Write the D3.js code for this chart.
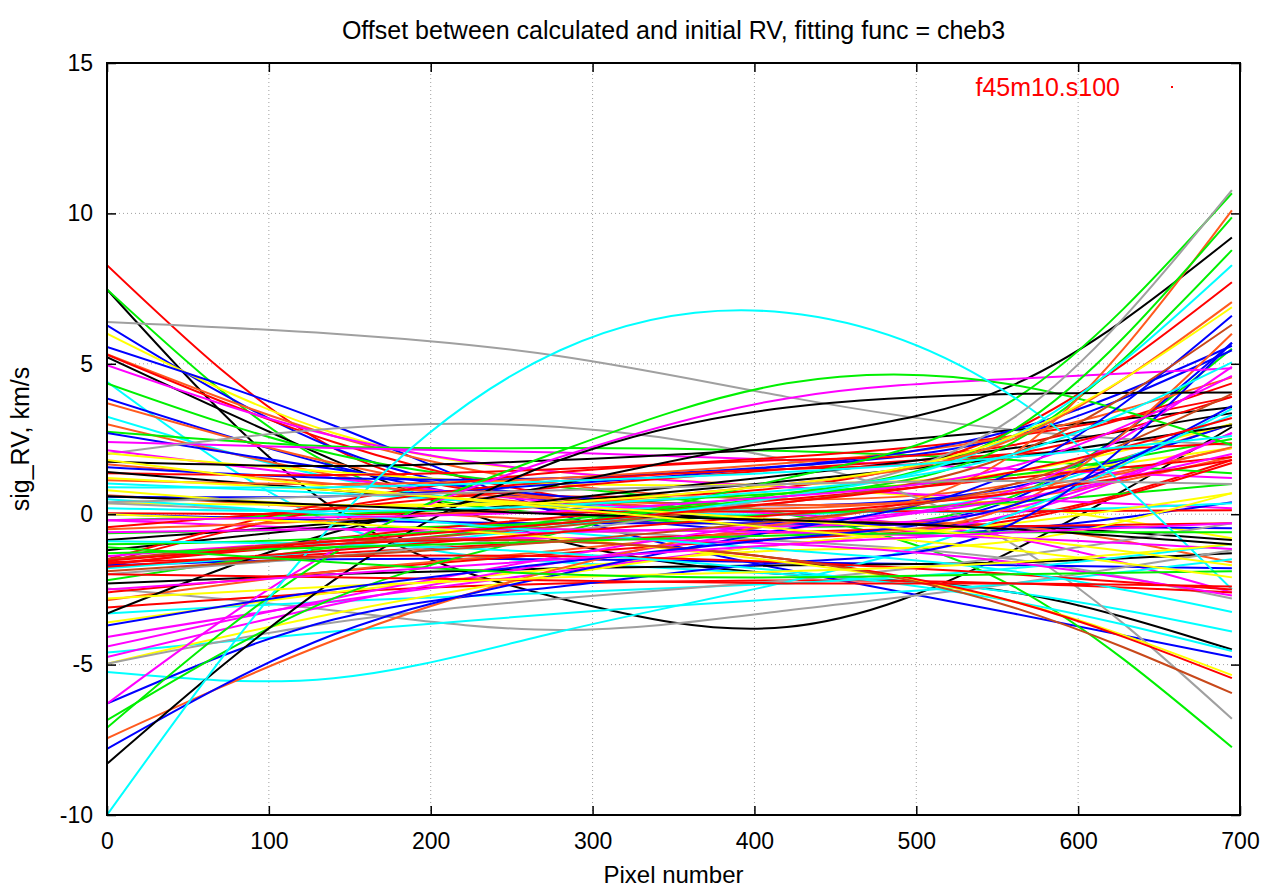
<!DOCTYPE html>
<html>
<head>
<meta charset="utf-8">
<script src="https://cdn.jsdelivr.net/npm/d3@7"></script>
<style>
  body { margin: 0; background: #fff; }
  text { font-family: "Liberation Sans", Arial, sans-serif; }
</style>
</head>
<body>
<div id="chart"></div>
<script>
// chart texts
const chartTitle = "Offset between calculated and initial RV, fitting func = cheb3";
const xLabel = "Pixel number";
const yLabel = "sig_RV, km/s";
const legendLabel = "f45m10.s100";

const xTicks = [0, 100, 200, 300, 400, 500, 600, 700];
const yTicks = [-10, -5, 0, 5, 10, 15];

const xKnots = [0, 140, 280, 420, 560, 695];

// one colour code per curve (r red, g green, b blue, m magenta, c cyan, o orange, s sienna, y yellow, k black, a grey)
const lineColors = [
  "r","k","g","a","b","y","b","o","r","k",
  "m","c","g","b","o","c","o","g","b","m",
  "a","m","y","k","o","b","r","k","o","c",
  "o","b","y","a","r","g","m","b","r","g",
  "k","k","r","r","r","r","b","g","k","a",
  "r","o","r","c","k","y","m","m","c","m",
  "y","a","c","b","m","g","g","o","b","k",
  "c","a","g","c","o","y","s","c","m","r",
  "m","c","c","y","r","s","r","r","y","g",
  "b","s","m","y","k","r","g","y","c","m",
  "a"
];

// RV offset (km/s) of each curve at the xKnots positions
const lineValues = [
  [8.28, 2.2, 0.6, 0.9, 2.8, 7.71],
  [7.47, 0.2, -2.8, -3.75, -1.2, 2.9],
  [7.47, 1.6, 0.0, -0.4, 0.6, 5.5],
  [6.39, 6.0, 5.25, 3.9, 2.8, 2.3],
  [6.28, 2.2, 0.4, -0.3, 0.5, 5.7],
  [6.0, 2.7, 1.4, 0.9, 0.3, -0.8],
  [5.56, 2.95, 0.0, -1.85, -3.3, -4.75],
  [5.32, 2.6, 1.0, 0.5, 1.0, 3.0],
  [5.3, 2.4, 0.6, -0.2, -0.1, 1.8],
  [5.22, 1.8, -0.9, -2.0, -2.6, -4.5],
  [4.95, 2.6, 1.4, 0.9, 0.5, 0.2],
  [4.4, -0.3, -1.6, -2.0, -2.6, -3.9],
  [4.35, 2.0, 0.9, 0.0, -2.4, -7.75],
  [3.85, 1.6, 0.1, -0.6, -0.5, 0.4],
  [3.69, 1.7, 0.5, 0.2, 0.8, 2.2],
  [3.24, 1.2, 0.2, 0.0, 0.7, 3.3],
  [2.99, 1.3, 0.3, 0.1, 0.5, 1.9],
  [2.74, 2.25, 2.2, 2.1, 1.8, 1.36],
  [2.7, 1.5, 0.6, 0.3, 0.9, 3.0],
  [2.4, 2.2, 2.05, 1.8, 1.5, 1.2],
  [2.0, 2.85, 2.9, 1.8, -1.0, -6.8],
  [2.13, 1.2, 0.4, 0.0, -0.8, -2.6],
  [2.03, 1.4, 1.0, 1.0, 1.3, 2.2],
  [1.74, 1.6, 1.8, 2.2, 2.8, 3.56],
  [1.66, 1.0, 0.5, 0.3, 0.7, 2.23],
  [1.56, 1.2, 1.2, 1.6, 2.6, 5.45],
  [1.36, 1.3, 1.5, 1.9, 2.6, 3.9],
  [1.4, 0.8, 0.2, -0.2, -0.4, -0.86],
  [1.13, 1.0, 1.2, 1.7, 2.6, 4.55],
  [1.02, 0.7, 0.3, 0.1, 0.1, 0.36],
  [0.63, 0.2, -0.2, -0.3, -0.4, -1.6],
  [0.58, 0.6, 1.0, 1.6, 2.8, 5.6],
  [0.36, 0.3, 0.4, 0.7, 1.4, 3.0],
  [0.36, 0.0, -0.5, -0.9, -1.5, -2.8],
  [0.03, 0.0, 0.05, 0.1, 0.1, 0.13],
  [-0.2, 0.0, 0.3, 0.7, 1.3, 2.5],
  [-0.2, -0.5, -0.6, -0.4, 0.2, 2.7],
  [0.0, -0.2, -0.3, -0.3, -0.4, -0.47],
  [-0.43, 0.2, 0.9, 1.5, 2.0, 2.36],
  [-0.63, -0.5, -0.3, 0.0, 0.4, 1.0],
  [-0.86, -0.3, 0.4, 1.1, 1.9, 2.96],
  [-1.2, -0.4, 0.5, 1.3, 2.2, 3.36],
  [-1.5, 0.4, 1.4, 1.8, 2.3, 4.35],
  [-1.6, 0.2, 1.1, 1.5, 2.0, 3.9],
  [-1.7, -0.8, -0.1, 0.5, 1.2, 1.9],
  [-1.75, -1.3, -0.9, -0.6, -0.4, -0.3],
  [-1.7, -1.5, -1.5, -1.6, -1.7, -1.8],
  [-2.2, -1.1, -0.3, 0.6, 2.4, 8.78],
  [-2.3, -2.0, -1.8, -1.7, -1.6, -1.3],
  [-2.47, -3.2, -3.85, -3.2, -2.3, -1.2],
  [-2.6, -1.9, -1.3, -0.8, -0.2, 1.7],
  [-2.86, -1.9, -1.2, -0.6, 0.3, 6.0],
  [-3.1, -2.6, -2.3, -2.2, -2.3, -2.6],
  [-3.3, -2.9, -2.6, -2.3, -1.8, -1.0],
  [-3.3, -0.6, 1.0, 2.5, 4.3, 9.2],
  [-3.6, -2.6, -1.8, -1.2, -0.9, 0.7],
  [-4.08, -2.9, -1.9, -1.0, 0.0, 2.7],
  [-4.4, -2.8, -1.4, -0.3, 0.8, 4.9],
  [-4.6, -3.9, -3.3, -2.8, -2.3, -1.5],
  [-4.75, -3.0, -1.6, -0.5, 0.5, 2.0],
  [-4.97, -3.3, -2.0, -1.0, -0.3, 0.7],
  [-4.97, -3.6, -2.8, -2.2, -1.4, -0.3],
  [-5.25, -5.45, -3.9, -2.25, 0.0, 3.5],
  [-6.3, -3.5, -2.4, -1.6, -0.3, 5.7],
  [-6.3, -1.2, 1.9, 3.85, 4.5, 4.85],
  [-6.85, -2.8, -0.6, 1.2, 3.8, 10.67],
  [-7.1, -1.3, 2.1, 4.35, 4.3, 2.3],
  [-7.45, -4.2, -1.8, -0.3, 2.0, 10.1],
  [-7.8, -4.0, -2.0, -0.5, 1.4, 6.6],
  [-8.3, -2.2, 1.8, 3.55, 4.0, 4.05],
  [-10.0, -0.3, 5.45, 6.7, 3.9, -2.5],
  [-2.0, -1.4, -0.6, 0.6, 3.2, 10.77],
  [-1.0, -0.8, -0.2, 0.7, 2.8, 9.87],
  [-1.8, -1.2, -0.4, 0.6, 2.6, 8.28],
  [-0.5, -0.2, 0.3, 1.0, 2.5, 7.05],
  [0.8, 0.3, 0.4, 1.0, 2.6, 6.88],
  [-1.5, -1.0, -0.4, 0.4, 2.0, 6.3],
  [0.2, 0.1, 0.3, 0.8, 2.0, 5.05],
  [-0.6, -0.5, -0.5, -0.6, -0.8, -1.16],
  [-1.6, -1.4, -1.4, -1.6, -2.0, -2.5],
  [-1.4, -0.9, -0.8, -1.0, -1.6, -2.7],
  [0.5, 0.0, -0.6, -1.2, -1.9, -3.25],
  [-0.9, -1.0, -1.3, -1.9, -2.9, -4.55],
  [0.0, -0.3, -0.8, -1.6, -2.9, -5.35],
  [-1.65, -1.0, -0.9, -1.5, -2.9, -5.45],
  [-1.5, -0.9, -0.9, -1.5, -3.1, -5.95],
  [-2.0, -2.1, -2.2, -2.3, -2.3, -2.4],
  [-1.75, -1.2, -0.6, 0.0, 0.7, 1.8],
  [-2.8, -2.4, -2.1, -1.9, -1.6, -1.0],
  [-1.3, -1.1, -0.9, -0.7, -0.6, -0.6],
  [-3.7, -2.5, -1.6, -0.8, 0.3, 3.6],
  [-1.9, -1.4, -0.9, -0.2, 1.0, 4.0],
  [-0.2, -0.1, 0.1, 0.6, 1.6, 4.6],
  [1.2, 0.8, 0.3, -0.2, -0.8, -1.7],
  [0.6, 0.3, 0.0, -0.2, -0.5, -1.0],
  [-1.55, -0.9, -0.3, 0.4, 1.4, 3.2],
  [-1.1, -1.6, -2.0, -2.1, -2.0, -1.9],
  [1.8, 0.9, 0.2, -0.5, -1.2, -2.1],
  [0.9, 0.9, 1.1, 1.4, 1.9, 2.6],
  [-2.5, -2.0, -1.5, -1.0, -0.6, -0.3],
  [0.4, 0.6, 0.8, 1.0, 1.1, 1.0]
];

const palette = {
  r: "#ff0000", g: "#00f000", b: "#0000ff", m: "#ff00ff", c: "#00ffff",
  o: "#ff5a1e", s: "#c8481a", y: "#ffff00", k: "#000000", a: "#a0a0a0"
};

const width = 1264, height = 889;
const margin = {top: 63, right: 24, bottom: 74, left: 107};

const svg = d3.select("#chart").append("svg")
  .attr("width", width)
  .attr("height", height);

const x = d3.scaleLinear().domain([0, 700]).range([margin.left, width - margin.right]);
const y = d3.scaleLinear().domain([-10, 15]).range([height - margin.bottom, margin.top]);

// dotted grid
svg.append("g").selectAll("line")
  .data(xTicks.slice(1, -1))
  .join("line")
  .attr("x1", d => x(d)).attr("x2", d => x(d))
  .attr("y1", y(-10)).attr("y2", y(15))
  .attr("stroke", "#a0a0a0").attr("stroke-width", 1)
  .attr("stroke-dasharray", "1,3");
svg.append("g").selectAll("line")
  .data(yTicks.slice(1, -1))
  .join("line")
  .attr("x1", x(0)).attr("x2", x(700))
  .attr("y1", d => y(d)).attr("y2", d => y(d))
  .attr("stroke", "#a0a0a0").attr("stroke-width", 1)
  .attr("stroke-dasharray", "1,3");

svg.append("clipPath").attr("id", "plotclip")
  .append("rect")
  .attr("x", x(0)).attr("y", y(15))
  .attr("width", x(700) - x(0)).attr("height", y(-10) - y(15));

const line = d3.line()
  .x((d, i) => x(xKnots[i]))
  .y(d => y(d))
  .curve(d3.curveNatural);

svg.append("g").attr("clip-path", "url(#plotclip)")
  .selectAll("path")
  .data(lineValues)
  .join("path")
  .attr("d", d => line(d))
  .attr("fill", "none")
  .attr("stroke", (d, i) => palette[lineColors[i]])
  .attr("stroke-width", 2);

// axes, ticks inward on all four sides
const xBottom = d3.axisBottom(x).tickValues(xTicks).tickSizeInner(-9).tickSizeOuter(0)
  .tickPadding(18).tickFormat(d => String(d));
const xTop = d3.axisTop(x).tickValues(xTicks).tickSizeInner(-9).tickSizeOuter(0).tickFormat("");
const yLeft = d3.axisLeft(y).tickValues(yTicks).tickSizeInner(-9).tickSizeOuter(0)
  .tickPadding(14).tickFormat(d => String(d));
const yRight = d3.axisRight(y).tickValues(yTicks).tickSizeInner(-9).tickSizeOuter(0).tickFormat("");

svg.append("g").attr("transform", `translate(0,${y(-10)})`).call(xBottom);
svg.append("g").attr("transform", `translate(0,${y(15)})`).call(xTop);
svg.append("g").attr("transform", `translate(${x(0)},0)`).call(yLeft);
svg.append("g").attr("transform", `translate(${x(700)},0)`).call(yRight);

svg.selectAll(".domain").attr("stroke", "none");
svg.selectAll(".tick line").attr("stroke", "#000").attr("stroke-width", 1.5);
svg.selectAll(".tick text")
  .attr("font-family", "Liberation Sans, Arial, sans-serif")
  .attr("font-size", 23)
  .attr("fill", "#000");

// border
svg.append("rect")
  .attr("x", x(0)).attr("y", y(15))
  .attr("width", x(700) - x(0)).attr("height", y(-10) - y(15))
  .attr("fill", "none").attr("stroke", "#000").attr("stroke-width", 2);

svg.append("text")
  .attr("x", (x(0) + x(700)) / 2).attr("y", 39)
  .attr("text-anchor", "middle")
  .attr("font-size", 25)
  .text(chartTitle);

svg.append("text")
  .attr("x", (x(0) + x(700)) / 2).attr("y", 883)
  .attr("text-anchor", "middle")
  .attr("font-size", 24)
  .text(xLabel);

svg.append("text")
  .attr("transform", `translate(29,${(y(15) + y(-10)) / 2}) rotate(-90)`)
  .attr("text-anchor", "middle")
  .attr("font-size", 25)
  .text(yLabel);

// legend
svg.append("text")
  .attr("x", 1120).attr("y", 96)
  .attr("text-anchor", "end")
  .attr("font-size", 25)
  .attr("fill", "#ff0000")
  .text(legendLabel);
svg.append("rect")
  .attr("x", 1171).attr("y", 86)
  .attr("width", 2).attr("height", 2)
  .attr("fill", "#ff0000");
</script>
</body>
</html>
